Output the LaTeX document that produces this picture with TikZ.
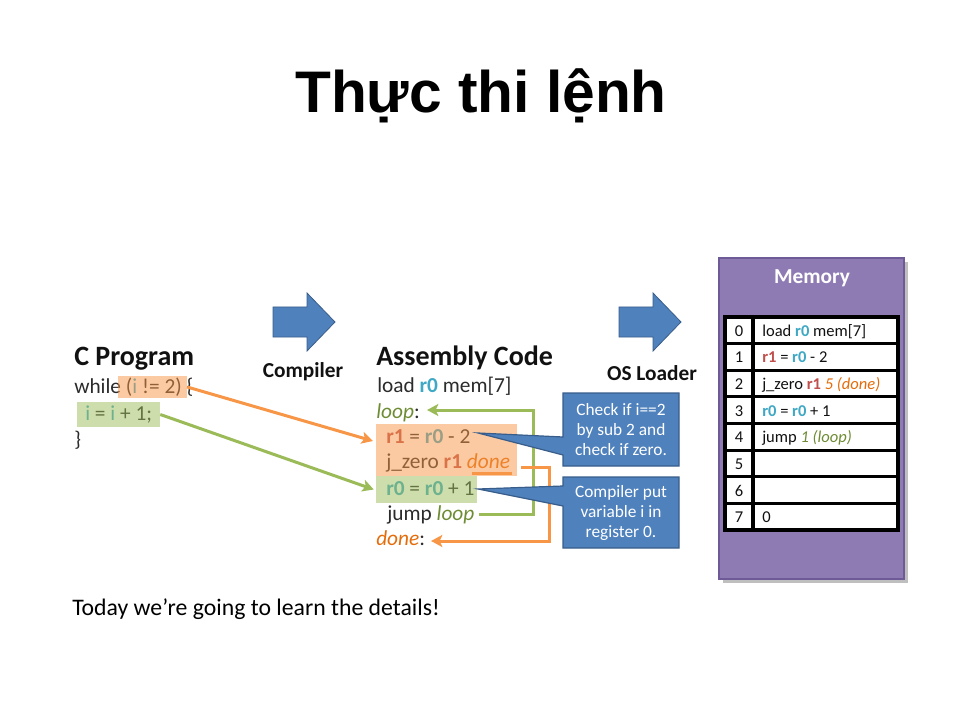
\documentclass[tikz,border=0pt]{standalone}
\usepackage{fontspec}
\setmainfont{Carlito}
\newfontfamily\titlefont{Liberation Sans}
\usetikzlibrary{arrows.meta,fit}
\definecolor{txt}{HTML}{2B2B2B}
\definecolor{dark}{HTML}{111111}
\definecolor{rzero}{HTML}{3FA8C4}
\definecolor{rone}{HTML}{C0504D}
\definecolor{lpgreen}{HTML}{6E8C34}
\definecolor{dnorange}{HTML}{E46C0A}
\definecolor{hlorange}{HTML}{F79646}
\definecolor{hlgreen}{HTML}{9BBB59}
\definecolor{calloutblue}{HTML}{4F81BD}
\definecolor{calloutedge}{HTML}{385D8A}
\definecolor{memfill}{HTML}{8F7BB3}
\definecolor{memedge}{HTML}{6E5A96}
\newcommand{\regzero}{\textcolor{rzero}{\textbf{r0}}}
\newcommand{\regone}{\textcolor{rone}{\textbf{r1}}}
\newcommand{\lbloop}[1]{\textcolor{lpgreen}{\textit{#1}}}
\newcommand{\lbdone}[1]{\textcolor{dnorange}{\textit{#1}}}
\begin{document}
\begin{tikzpicture}[x=0.75pt,y=-0.75pt,
 hdr/.style={anchor=base west, inner sep=0pt, text=dark, font=\fontsize{21}{25}\selectfont\bfseries},
 code/.style={anchor=base west, inner sep=0pt, text=txt, font=\fontsize{16}{19}\selectfont},
 lbl/.style={anchor=base, inner sep=0pt, text=dark, font=\fontsize{16}{19}\selectfont\bfseries},
 hlo/.style={fill=hlorange, fill opacity=0.5, inner sep=0pt, draw=none},
 hlg/.style={fill=hlgreen, fill opacity=0.5, inner sep=0pt, draw=none},
 oline/.style={draw=hlorange, line width=2.25pt},
 gline/.style={draw=hlgreen, line width=2.25pt},
 tip/.style={-{Stealth[length=8.5pt,width=9pt,inset=2pt]}},
 blockarrow/.style={fill=calloutblue, draw=calloutedge, line width=0.6pt},
 callout/.style={fill=calloutblue, draw=calloutedge, line width=0.9pt},
 ctext/.style={align=center, text=white, inner sep=0pt, font=\fontsize{13}{15}\selectfont},
 cell/.style={anchor=base, inner sep=0pt, text=dark, font=\fontsize{12.4}{15}\selectfont},
 cellw/.style={anchor=base west, inner sep=0pt, text=dark, font=\fontsize{12.4}{15}\selectfont},
]
\useasboundingbox (0,0) rectangle (960,720);

% title
\node[anchor=base, inner sep=0pt, font=\titlefont\bfseries\fontsize{44}{50}\selectfont] (title) at (481,113) {Thực thi lệnh};

% C program
\node[hdr] (chead) at (74,365) {C Program};
\node[code] (cl1) at (74,393) {while (\textcolor{rzero}{i} != 2) \{};
\node[code] (cl2) at (85,420) {\textcolor{rzero}{i} = \textcolor{rzero}{i} + 1;};
\node[code] (cl3) at (74,446) {\}};
\node[hlo, fit={(118,376) (187,398)}] (hcond) {};
\node[hlg, fit={(77,402) (160,427)}] (hinc) {};

% block arrows
\path[blockarrow] (273,307) -- (307,307) -- (307,293) -- (335,322) -- (307,351) -- (307,337) -- (273,337) -- cycle;
\node[lbl] (comp) at (303,377) {Compiler};
\path[blockarrow] (619,307) -- (653,307) -- (653,293) -- (681,322) -- (653,351) -- (653,337) -- (619,337) -- cycle;
\node[lbl] (osl) at (652,380) {OS Loader};

% assembly
\node[hdr] (ahead) at (376,365) {Assembly Code};
\node[code] (a1) at (377,392) {load \regzero{} mem[7]};
\node[code] (a2) at (376,418) {\lbloop{loop}:};
\node[code] (a3) at (386,443) {\regone{} = \regzero{} - 2};
\node[code] (a4) at (386,468) {j\_zero \regone{} \lbdone{done}};
\node[code] (a5) at (386,495) {\regzero{} = \regzero{} + 1};
\node[code] (a6) at (387,520) {jump \lbloop{loop}};
\node[code] (a7) at (376,545) {\lbdone{done}:};
\node[hlo, fit={(376,424) (517,476)}] (hasmo) {};
\node[hlg, fit={(376,476) (477,503)}] (hasmg) {};

% connectors
\coordinate (oend) at (373,441);
\draw[oline, tip] (hcond.east) -- (oend);
\draw[gline, tip] (hinc.east) -- ([xshift=-1.5pt]hasmg.west);
\coordinate (gturn) at (533,410);
\coordinate (gend) at (427,410);
\draw[gline, tip] ([xshift=3pt]a6.east) -| (gturn) -- (gend);
\coordinate (dul1) at (472,473);
\coordinate (dul2) at (512,473);
\draw[oline] (dul1) -- (dul2);
\coordinate (ostart) at (521,467);
\coordinate (oturn) at (549,541);
\coordinate (dend) at (431,541);
\draw[oline, tip] (ostart) -| (oturn) -- (dend);

% callouts
\path[callout] (563,393) -- (679,393) -- (679,466) -- (563,466) -- (563,455) -- (478,433) -- (563,437) -- cycle;
\node[ctext] (c1) at (621,430) {Check if i==2\\by sub 2 and\\check if zero.};
\path[callout] (563,477) -- (679,477) -- (679,548) -- (563,548) -- (563,506) -- (478,489) -- (563,486) -- cycle;
\node[ctext] (c2) at (621,513) {Compiler put\\variable i in\\register 0.};

% memory
\fill[black, opacity=0.25] (723,262) rectangle (908,583);
\path[fill=memfill, draw=memedge, line width=1.2pt] (719,258) rectangle (904,579);
\node[anchor=base, inner sep=0pt, text=white, font=\fontsize{16}{19}\selectfont\bfseries] (memt) at (812,284) {Memory};
\fill[white] (725,317) rectangle (898,530);
\foreach \k in {1,...,7} \draw[line width=2.3pt] (725,{317+\k*26.625}) -- (898,{317+\k*26.625});
\draw[line width=2.3pt] (753,317) -- (753,530);
\draw[line width=2.6pt] (725,317) rectangle (898,530);
\foreach \k in {0,...,7} \node[cell] (idx\k) at (739,{317+(\k+0.5)*26.625+6}) {\k};
\node[cellw] (m0) at (762,{317+0.5*26.625+6}) {load \regzero{} mem[7]};
\node[cellw] (m1) at (762,{317+1.5*26.625+6}) {\regone{} = \regzero{} - 2};
\node[cellw] (m2) at (762,{317+2.5*26.625+6}) {j\_zero \regone{} \lbdone{5 (done)}};
\node[cellw] (m3) at (762,{317+3.5*26.625+6}) {\regzero{} = \regzero{} + 1};
\node[cellw] (m4) at (762,{317+4.5*26.625+6}) {jump \lbloop{1 (loop)}};
\node[cellw] (m7) at (762,{317+7.5*26.625+6}) {0};

% bottom text
\node[anchor=base west, inner sep=0pt, text=black, font=\fontsize{17.8}{21}\selectfont] (today) at (72,615) {Today we’re going to learn the details!};
\end{tikzpicture}
\end{document}
